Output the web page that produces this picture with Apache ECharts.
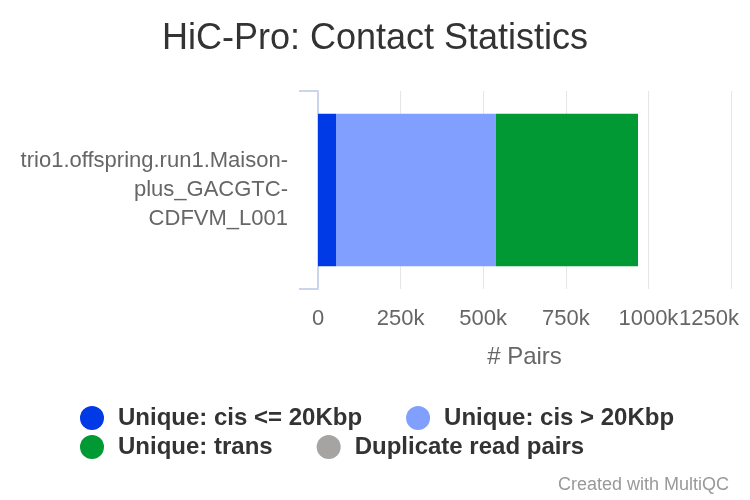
<!DOCTYPE html>
<html>
<head>
<meta charset="utf-8">
<script src="https://cdn.jsdelivr.net/npm/echarts@6/dist/echarts.min.js"></script>
<style>html,body{margin:0;padding:0;background:#fff}#c{width:750px;height:500px}</style>
</head>
<body>
<div id="c"></div>
<script>
var categories = ['trio1.offspring.run1.Maison-\nplus_GACGTC-\nCDFVM_L001'];
var seriesNames = ['Unique: cis <= 20Kbp', 'Unique: cis > 20Kbp', 'Unique: trans', 'Duplicate read pairs'];
var seriesColors = ['#0039e6', '#809fff', '#009933', '#a6a3a3'];
var cisShort = [54500];
var cisLong = [484000];
var trans = [430000];
var duplicates = [0];
var xTicks = [0, 250000, 500000, 750000, 1000000, 1250000];

var values = [cisShort, cisLong, trans, duplicates];
var chart = echarts.init(document.getElementById('c'), null, {renderer: 'canvas'});
var font = 'Liberation Sans, Arial, sans-serif';
var legendText = {fontFamily: font, fontSize: 24, fontWeight: 'bold', color: '#333', padding: [0, 0, 0, 9]};
var xMax = xTicks[xTicks.length - 1];
chart.setOption({
  animation: false,
  title: [
    {text: 'HiC-Pro: Contact Statistics', left: 'center', top: 16,
     textStyle: {fontFamily: font, fontSize: 36, fontWeight: 'normal', color: '#333'}},
    {text: 'Created with MultiQC', right: 16, top: 471,
     textStyle: {fontFamily: font, fontSize: 18, fontWeight: 'normal', color: '#999'}}
  ],
  legend: [
    {data: seriesNames.slice(0, 2), left: 75, top: 401, icon: 'circle', itemWidth: 24, itemHeight: 24,
     itemGap: 44, textStyle: legendText, selectedMode: false},
    {data: seriesNames.slice(2, 4), left: 75, top: 430, icon: 'circle', itemWidth: 24, itemHeight: 24,
     itemGap: 44, textStyle: legendText, selectedMode: false}
  ],
  grid: {left: 318, right: 19, top: 91, bottom: 211, containLabel: false, outerBoundsMode: 'none'},
  xAxis: {
    type: 'value', min: xTicks[0], max: xMax, interval: xTicks[1] - xTicks[0],
    name: '# Pairs', nameLocation: 'middle', nameGap: 56,
    nameTextStyle: {fontFamily: font, fontSize: 24, color: '#666'},
    axisLine: {show: false}, axisTick: {show: false},
    axisLabel: {fontFamily: font, fontSize: 22, color: '#666', margin: 19,
      formatter: function (v) {
        var s = v === 0 ? '0' : (v / 1000) + 'k';
        return v === xMax ? '{m|' + s + '}' : s;
      },
      rich: {m: {fontFamily: font, fontSize: 22, color: '#666', padding: [0, 44, 0, 0]}}},
    splitLine: {show: true, lineStyle: {color: '#e6e6e6', width: 1}}
  },
  yAxis: {
    type: 'category', data: categories, inverse: true,
    axisLine: {show: true, lineStyle: {color: '#ccd6eb', width: 2}},
    axisTick: {show: true, length: 19, lineStyle: {color: '#ccd6eb', width: 2}},
    axisLabel: {fontFamily: font, fontSize: 22, color: '#666', margin: 30, lineHeight: 29, align: 'right'},
    splitLine: {show: false}
  },
  series: seriesNames.map(function (n, i) {
    return {name: n, type: 'bar', stack: 'total', data: values[i], barWidth: '77%',
      itemStyle: {color: seriesColors[i]}, emphasis: {disabled: true}};
  })
});
</script>
</body>
</html>
